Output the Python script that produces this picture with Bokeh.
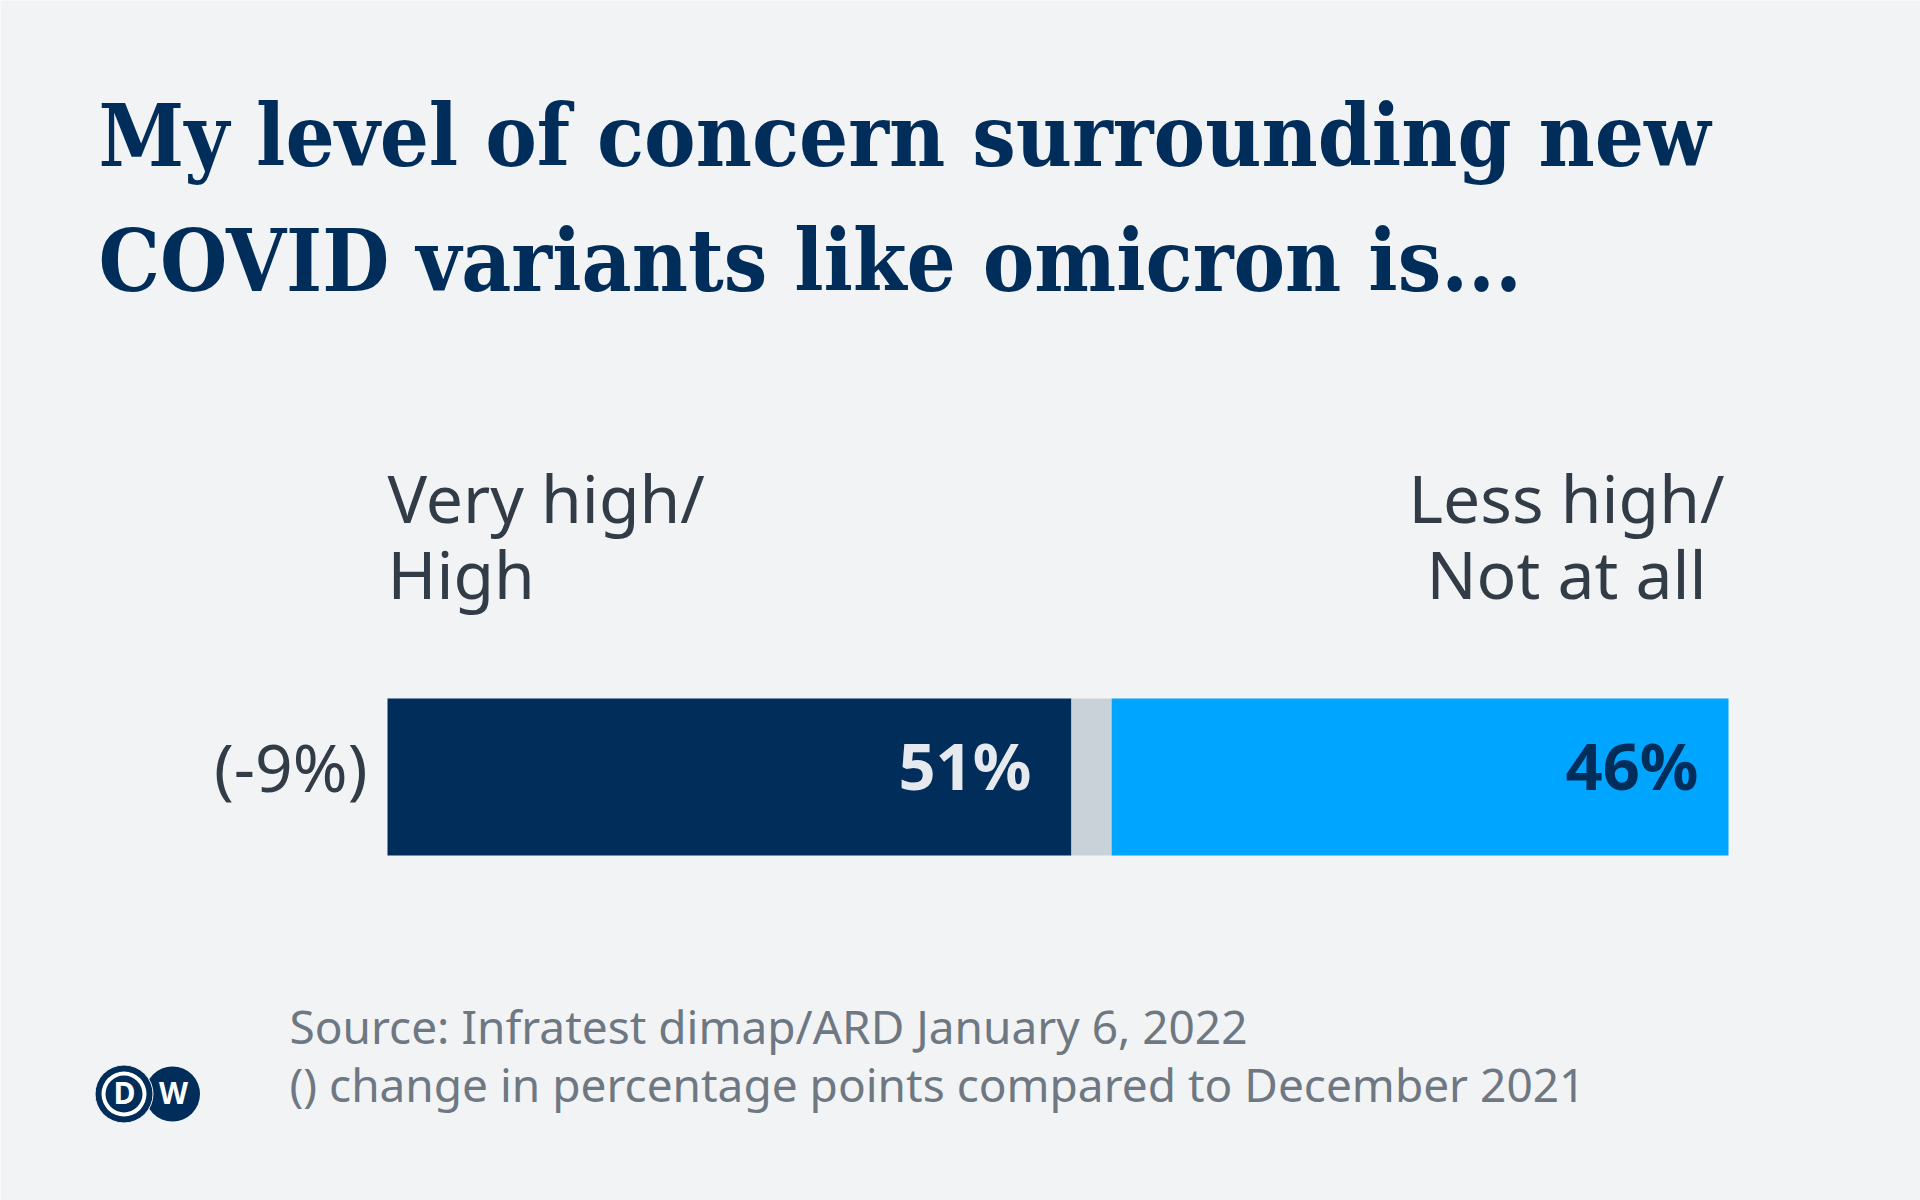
from bokeh.plotting import figure
from bokeh.models import Range1d
from bokeh.embed import file_html
from bokeh.resources import INLINE
from bokeh.core.properties import value
import numpy as np

# ---- data ----
title_lines = ["My level of concern surrounding new", "COVID variants like omicron is..."]
categories = ["Very high/ High", "No answer", "Less high/ Not at all"]
values = [51, 3, 46]
change_label = "(-9%)"
source_lines = ["Source: Infratest dimap/ARD January 6, 2022",
                "() change in percentage points compared to December 2021"]

BG = "#F2F3F5"
NAVY = "#002D5A"
BLUE = "#00A5FF"
GREY = "#C9D1D9"
TEXT = "#323C46"
SRC = "#6E7882"
colors = [NAVY, GREY, BLUE]

W, H = 1920, 1200
LEFT_PX, RIGHT_PX = 387, 1728          # page px where 0% and 100% sit
K = (RIGHT_PX - LEFT_PX) / 100.0
BASE = 0.42                            # baseline correction (em)


def X(px):
    return (px - LEFT_PX) / K


def Y(px, size):
    return px - BASE * size

p = figure(width=W, height=H, output_backend="svg", toolbar_location=None,
           x_range=Range1d(X(0), X(W)), y_range=Range1d(H, 0),
           x_axis_location=None, y_axis_location=None,
           background_fill_color=BG, border_fill_color=BG,
           min_border=0, outline_line_color=None)
p.grid.visible = False

# ---- stacked bar ----
vals = np.array(values, dtype=float)
rights = np.cumsum(vals)
lefts = rights - vals
bar_y = 776.5
p.hbar(y=[bar_y] * 3, left=lefts, right=rights, height=157,
       fill_color=colors, line_color=None)

# value labels
VS = 65
p.text(x=[rights[0] - 40 / K], y=[Y(792, VS)], text=[f"{values[0]}%"],
       text_font=value("Noto Sans"), text_font_style="bold", text_font_size=f"{VS}px",
       text_color="#E6EAEE", text_align="right", text_baseline="alphabetic")
p.text(x=[rights[2] - 30 / K], y=[Y(792, VS)], text=[f"{values[2]}%"],
       text_font=value("Noto Sans"), text_font_style="bold", text_font_size=f"{VS}px",
       text_color=NAVY, text_align="right", text_baseline="alphabetic")

# change label
LS = 66
p.text(x=[X(367)], y=[Y(793, LS)], text=[change_label],
       text_font=value("Noto Sans"), text_font_size=f"{LS}px",
       text_color=TEXT, text_align="right", text_baseline="alphabetic")

# category headers
left_lines = ["Very high/", "High"]
right_lines = ["Less high/", "Not at all"]
p.text(x=[X(387)] * 2, y=[Y(524, LS), Y(600, LS)], text=left_lines,
       text_font=value("Noto Sans"), text_font_size=f"{LS}px",
       text_color=TEXT, text_align="left", text_baseline="alphabetic")
p.text(x=[X(1566)] * 2, y=[Y(524, LS), Y(600, LS)], text=right_lines,
       text_font=value("Noto Sans"), text_font_size=f"{LS}px",
       text_color=TEXT, text_align="center", text_baseline="alphabetic")

# title
TS = 86
p.text(x=[X(98)] * 2, y=[Y(171, TS), Y(296, TS)], text=title_lines,
       text_font=value("DejaVu Serif Condensed"), text_font_style="bold", text_font_size=f"{TS}px",
       text_color=NAVY, text_align="left", text_baseline="alphabetic")

# source
SS = 46
p.text(x=[X(289)] * 2, y=[Y(1045, SS), Y(1103, SS)], text=source_lines,
       text_font=value("Noto Sans"), text_font_size=f"{SS}px",
       text_color=SRC, text_align="left", text_baseline="alphabetic")

# DW logo
p.scatter(x=[X(172)], y=[1093.5], size=55, marker="circle", fill_color=NAVY, line_color=None)
p.scatter(x=[X(123.5)], y=[1093.5], size=58, marker="circle", fill_color=NAVY, line_color=BG, line_width=1)
p.scatter(x=[X(123.5)], y=[1093.5], size=45, marker="circle", fill_color="white", line_color=None)
p.scatter(x=[X(123.5)], y=[1093.5], size=37, marker="circle", fill_color=NAVY, line_color=None)
p.text(x=[X(124), X(173)], y=[Y(1104.5, 30)] * 2, text=["D", "W"],
       text_font=value("Noto Sans"), text_font_style="bold", text_font_size="30px",
       text_color="white", text_align="center", text_baseline="alphabetic")

open("out.html", "w").write(file_html(p, INLINE))
